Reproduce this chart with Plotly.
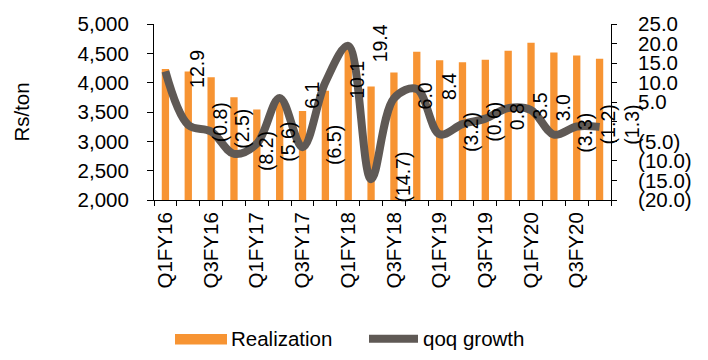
import plotly.graph_objects as go

quarters = ["Q1FY16", "Q2FY16", "Q3FY16", "Q4FY16", "Q1FY17", "Q2FY17", "Q3FY17", "Q4FY17",
            "Q1FY18", "Q2FY18", "Q3FY18", "Q4FY18", "Q1FY19", "Q2FY19", "Q3FY19", "Q4FY19",
            "Q1FY20", "Q2FY20", "Q3FY20", "Q4FY20"]
realization = [4234, 4190, 4093, 3750, 3544, 3760, 3517, 3864, 4620, 3935,
               4174, 4527, 4380, 4350, 4392, 4545, 4680, 4516, 4462, 4408]
qoq_growth = [12.9, -0.8, -2.5, -8.2, -5.6, 6.1, -6.5, 10.1, 19.4, -14.7,
              6.0, 8.4, -3.2, -0.6, 0.8, 3.5, 3.0, -3.3, -1.2, -1.3]
left_ticks = [2000, 2500, 3000, 3500, 4000, 4500, 5000]
right_ticks = [-20, -15, -10, -5, 0, 5, 10, 15, 20, 25]

FONT = "Liberation Sans, Arial, sans-serif"
FS = 20.5
ORANGE = "#F79433"
GREY = "#5F5955"
N = len(quarters)


def fmt(v, blank_zero=False):
    if blank_zero and v == 0:
        return ""
    return f"({abs(v):.1f})" if v < 0 else f"{v:.1f}"


xs = list(range(N))

fig = go.Figure()
fig.add_trace(go.Bar(x=xs, y=realization, marker=dict(color=ORANGE, line=dict(width=0)),
                     name="Realization", yaxis="y", showlegend=False))
fig.add_trace(go.Scatter(x=xs, y=qoq_growth, mode="lines", yaxis="y2", name="qoq growth",
                         line=dict(color=GREY, width=8, shape="spline", smoothing=1.0),
                         showlegend=False))

# data labels (rotated), placed right of each point as in the source
for i, v in enumerate(qoq_growth):
    fig.add_annotation(x=(i + 1.38 + 0.5) / N, y=v + 0.6, xref="paper", yref="y2", text=fmt(v),
                       textangle=-90, showarrow=False, xanchor="center", yanchor="middle",
                       font=dict(family=FONT, size=19.5, color="black"))

# custom legend
fig.add_shape(type="rect", xref="paper", yref="paper",
              x0=(175 - 154) / 457, x1=(227 - 154) / 457,
              y0=(200 - 351) / 184, y1=(200 - 340) / 184,
              fillcolor=ORANGE, line=dict(width=0))
fig.add_annotation(xref="paper", yref="paper", x=(229 - 154) / 457, y=(200 - 345) / 184,
                   text="Realization", showarrow=False, xanchor="left", yanchor="middle",
                   font=dict(family=FONT, size=FS, color="black"))
fig.add_shape(type="line", xref="paper", yref="paper",
              x0=(369 - 154) / 457, x1=(418 - 154) / 457,
              y0=(200 - 345) / 184, y1=(200 - 345) / 184,
              line=dict(color=GREY, width=8))
fig.add_annotation(xref="paper", yref="paper", x=(421 - 154) / 457, y=(200 - 345) / 184,
                   text="qoq growth", showarrow=False, xanchor="left", yanchor="middle",
                   font=dict(family=FONT, size=FS, color="black"))

fig.update_layout(
    width=708, height=360,
    margin=dict(l=154, r=97, t=16, b=160),
    paper_bgcolor="white", plot_bgcolor="white",
    bargap=0.68,
    font=dict(family=FONT, size=FS, color="black"),
    xaxis=dict(
        range=[-0.5, N - 0.5],
        tickvals=xs[::2], ticktext=quarters[::2], tickangle=-90,
        ticks="", showgrid=False, zeroline=False,
        showline=True, linecolor="black", linewidth=1, ticklabelstandoff=3,
        minor=dict(tick0=-0.5, dtick=1, ticks="outside", ticklen=5, tickcolor="black", showgrid=False),
        tickfont=dict(family=FONT, size=FS),
    ),
    yaxis=dict(
        range=[2000, 5000], tickvals=left_ticks,
        ticktext=[f"{v:,}" for v in left_ticks],
        ticks="outside", ticklen=6, tickcolor="black",
        showline=True, linecolor="black", linewidth=1,
        showgrid=False, zeroline=False, ticklabelstandoff=14,
        title=dict(text="Rs/ton", standoff=42, font=dict(family=FONT, size=FS)),
        tickfont=dict(family=FONT, size=FS),
    ),
    yaxis2=dict(
        range=[-20, 25], tickvals=right_ticks,
        ticktext=[fmt(v, blank_zero=True) for v in right_ticks],
        overlaying="y", side="right", anchor="x",
        ticks="outside", ticklen=5, tickcolor="black",
        showline=True, linecolor="black", linewidth=1,
        showgrid=False, zeroline=False, ticklabelstandoff=17,
        tickfont=dict(family=FONT, size=FS),
    ),
)

fig.write_html("out.html")
